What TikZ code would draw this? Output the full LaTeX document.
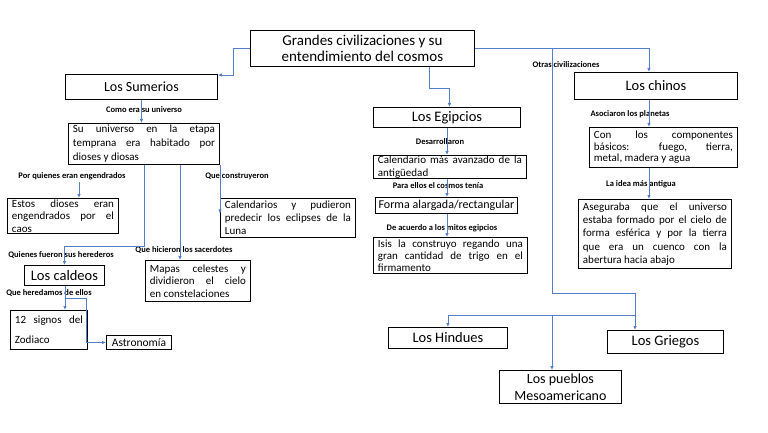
\documentclass[tikz,border=0pt]{standalone}
\usepackage{fontspec}
\setmainfont{Carlito}
\usetikzlibrary{arrows.meta}
\definecolor{cblue}{RGB}{84,126,200}
\tolerance=10000
\hbadness=10000
\hyphenpenalty=10000
\exhyphenpenalty=10000
\tikzset{
  box/.style={draw=black, line width=0.9pt, fill=white, anchor=north west,
    inner xsep=4.5pt, inner ysep=1pt, align=justify},
  head/.style={draw=black, line width=0.9pt, fill=white, anchor=north west,
    inner sep=0pt, align=center},
  conn/.style={draw=cblue, line width=0.9pt},
  arr/.style={conn, -{Latex[length=4pt,width=3.5pt]}},
  lbl/.style={font=\bfseries\fontsize{8.5}{10}\selectfont, inner sep=0pt},
}
\newcommand{\bx}[1]{\fontsize{11}{#1}\selectfont}
\begin{document}
\begin{tikzpicture}[x=1pt,y=-1pt]
\useasboundingbox (0,0) rectangle (768,433);

% ---- heads
\node[head, minimum width=224pt, minimum height=36pt, font=\fontsize{15}{16}\selectfont] (title) at (250,30) {Grandes civilizaciones y su\\entendimiento del cosmos};
\node[head, minimum width=152pt, minimum height=25pt, font=\fontsize{14}{16}\selectfont] (sum) at (65,74) {Los Sumerios};
\node[head, minimum width=80pt, minimum height=20pt, font=\fontsize{14.5}{16}\selectfont] (caldeos) at (24,265) {Los caldeos};
\node[head, minimum width=147pt, minimum height=20pt, font=\fontsize{14.5}{16}\selectfont] (egip) at (373,107) {Los Egipcios};
\node[head, minimum width=142pt, minimum height=16pt, font=\fontsize{12}{14}\selectfont] (forma) at (375,197) {Forma alargada/rectangular};
\node[head, minimum width=65pt, minimum height=14pt, font=\fontsize{11.5}{13}\selectfont] (astro) at (106,335) {Astronomía};
\node[head, minimum width=163pt, minimum height=27pt, font=\fontsize{14.5}{16}\selectfont] (chinos) at (574,72) {Los chinos};
\node[head, minimum width=119pt, minimum height=21pt, font=\fontsize{14.5}{16}\selectfont] (hindues) at (388,327) {Los Hindues};
\node[head, minimum width=116pt, minimum height=23pt, font=\fontsize{14.5}{16}\selectfont] (griegos) at (607,330) {Los Griegos};
\node[head, minimum width=122pt, minimum height=33pt, font=\fontsize{14}{17}\selectfont] (meso) at (499,370) {Los pueblos\\Mesoamericano};

% ---- text boxes
\node[box, text width=142pt, minimum height=41pt, font=\bx{14}] (su) at (68,123) {Su universo en la etapa\linebreak temprana era habitado por\linebreak dioses y diosas};
\node[box, text width=102pt, minimum height=35pt, font=\bx{12.5}] (estos) at (7,198) {Estos dioses eran\linebreak engendrados por el\linebreak caos};
\node[box, text width=126pt, minimum height=39pt, font=\bx{13}] (cal) at (220,198) {Calendarios y pudieron\linebreak predecir los eclipses de la\linebreak Luna};
\node[box, text width=96pt, minimum height=41pt, font=\bx{12.5}] (mapas) at (145,260) {Mapas celestes y\linebreak dividieron el cielo\linebreak en constelaciones};
\node[box, text width=68pt, minimum height=39pt, font=\bx{20}] (zod) at (10,310) {12 signos del\linebreak Zodiaco};
\node[box, text width=144pt, minimum height=23pt, inner ysep=0pt, font=\bx{13}] (calend) at (373,155) {Calendario más avanzado de la\linebreak antigüedad};
\node[box, text width=145pt, minimum height=36pt, font=\bx{12}] (isis) at (373,237) {Isis la construyo regando una\linebreak gran cantidad de trigo en el\linebreak firmamento};
\node[box, text width=139pt, minimum height=40pt, font=\bx{11.5}] (comp) at (589,127) {Con los componentes\linebreak básicos: fuego, tierra,\linebreak metal, madera y agua};
\node[box, text width=144pt, minimum height=69pt, font=\bx{13.2}] (aseg) at (578,199) {Aseguraba que el universo\linebreak estaba formado por el cielo de\linebreak forma esférica y por la tierra\linebreak que era un cuenco con la\linebreak abertura hacia abajo};

% ---- labels
\node[lbl] (l1) at (144,110) {Como era su universo};
\node[lbl] (l2) at (72,176) {Por quienes eran engendrados};
\node[lbl] (l3) at (237,176) {Que construyeron};
\node[lbl] (l4) at (61,255) {Quienes fueron sus herederos};
\node[lbl] (l5) at (184,250) {Que hicieron los sacerdotes};
\node[lbl] (l6) at (49,293) {Que heredamos de ellos};
\node[lbl] (l7) at (440,142) {Desarrollaron};
\node[lbl] (l8) at (438,186) {Para ellos el cosmos tenía};
\node[lbl] (l9) at (442,228) {De acuerdo a los mitos egipcios};
\node[lbl] (l10) at (566,65) {Otras civilizaciones};
\node[lbl] (l11) at (630,114) {Asociaron los planetas};
\node[lbl] (l12) at (641,184) {La idea más antigua};

% ---- connectors
\draw[arr] (title.west) -- (233,0 |- title.west) |- ([yshift=-1pt]sum.north east);
\draw[arr] ([xshift=67pt]title.south) -- ++(0,22) -| ([xshift=2.5pt]egip.north);
\draw[arr] (title.east) -| ([xshift=-7pt]chinos.north);
\coordinate (ob) at (552,0 |- title.east);
\coordinate (oj) at (635,315);
\draw[conn] (ob) -- (552,293) -| (oj);
\draw[arr] (oj) -- (oj |- griegos.north);
\draw[arr] (oj) -| (hindues.north);
\draw[arr] (552,0 |- oj) -- (552,0 |- meso.north);

\draw[arr] (sum.south) -- (sum.south |- su.north);
\coordinate (e1) at (79,182);
\draw[arr] (e1) -- (e1 |- estos.north);
\draw[arr] (su.south) -- ++(0,82) -| (caldeos.north);
\draw[arr] (180,0 |- su.south) -- (180,0 |- mapas.north);
\draw[arr] (cal.west |- su.south) -- ([yshift=4.5pt]cal.west);
\draw[arr] (65,0 |- caldeos.south) -- (65,0 |- zod.north);
\coordinate (cb) at (65,298);
\draw[arr] (cb) -- (86,298) |- (astro.west);

\draw[arr] (447,0 |- egip.south) -- (447,0 |- calend.north);
\draw[arr] (447,0 |- calend.south) -- (447,0 |- forma.north);
\draw[arr] (447,0 |- forma.south) -- (447,0 |- isis.north);

\draw[arr] (649,0 |- chinos.south) -- (649,0 |- comp.north);
\draw[arr] (649,0 |- comp.south) -- (649,0 |- aseg.north);
\end{tikzpicture}
\end{document}
